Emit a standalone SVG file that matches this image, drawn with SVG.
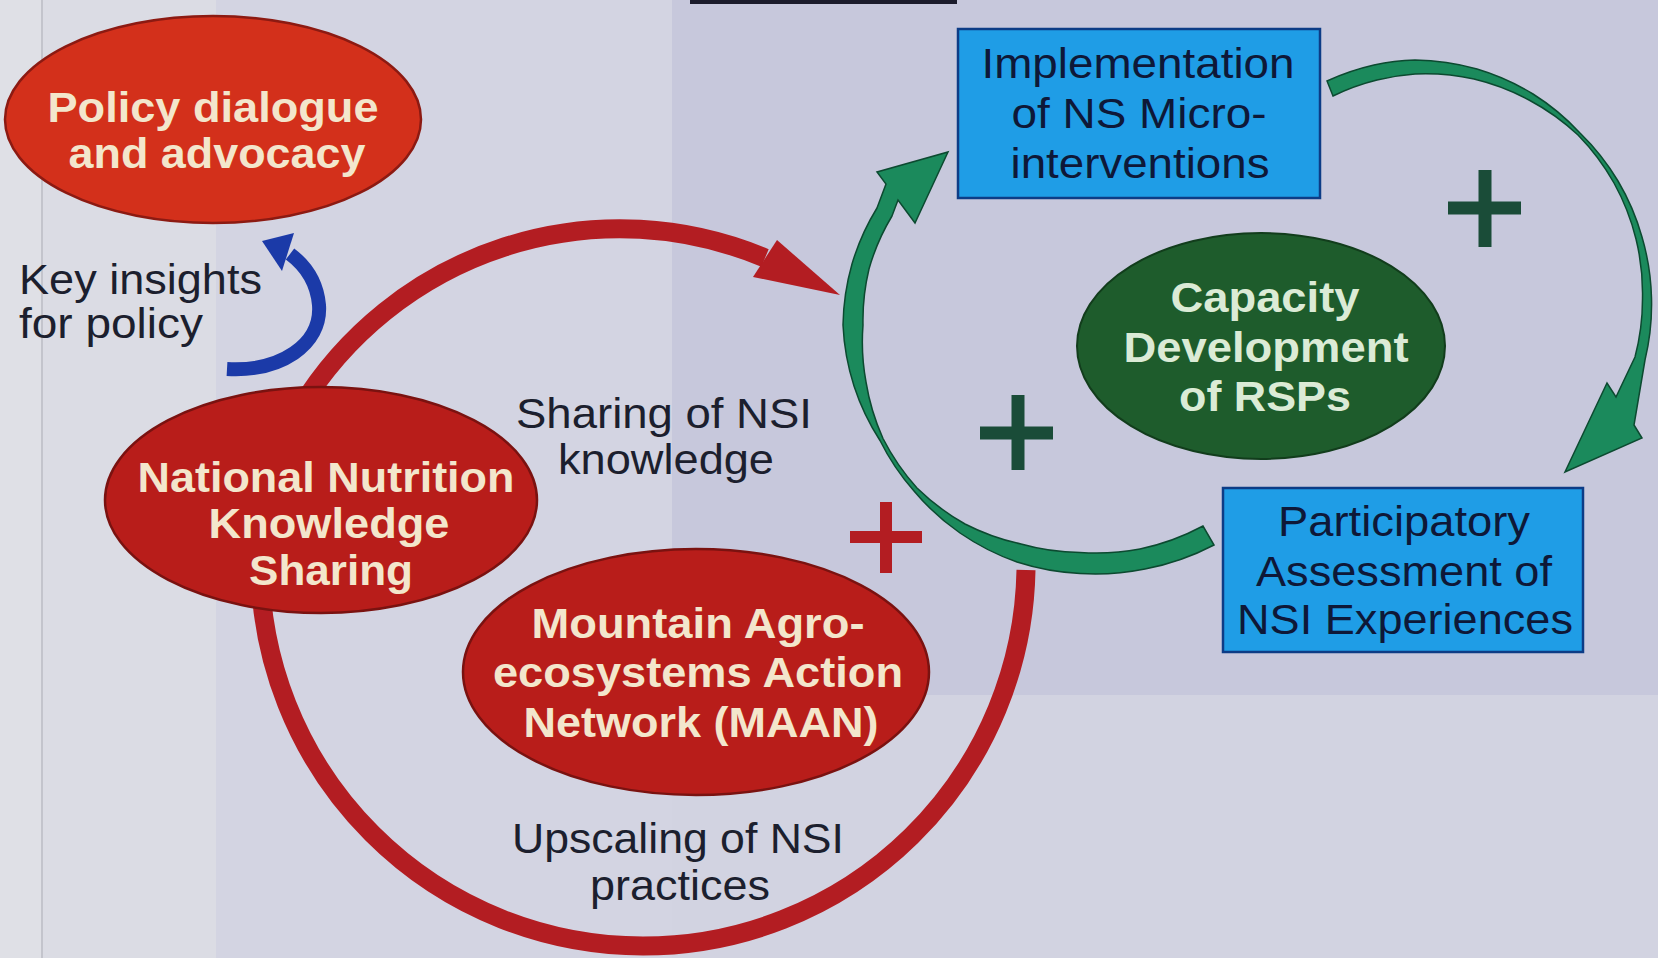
<svg xmlns="http://www.w3.org/2000/svg" width="1658" height="958" viewBox="0 0 1658 958">
<style>
.b{font-family:"Liberation Sans",Arial,sans-serif;font-weight:bold;font-size:43px;text-anchor:middle}
.r{font-family:"Liberation Sans",Arial,sans-serif;font-size:43px;fill:#1c1f2e}
.m{text-anchor:middle}
.cream{fill:#f3e6cc}
.navy{fill:#0e1838}
.pale{fill:#dbebd6}
.redarc{fill:none;stroke:#b31d22;stroke-width:19}
.garrow{fill:#1b8a5c;stroke:#0c4a30;stroke-width:1.5}
.gplus{stroke:#1a4c38;stroke-width:13;fill:none}
.rplus{stroke:#b31d22;stroke-width:12;fill:none}
.box{fill:#1f9de6;stroke:#0d3c86;stroke-width:2.5}
</style>
<g id="background">
<rect x="0" y="0" width="1658" height="958" fill="#d5d6e2"/>
<rect x="0" y="0" width="42" height="958" fill="#dfe0e6"/>
<rect x="42" y="0" width="174" height="958" fill="#dbdce4"/>
<rect x="216" y="0" width="456" height="958" fill="#d3d4e2"/>
<rect x="672" y="0" width="986" height="695" fill="#c7c8dc"/>
<rect x="672" y="695" width="986" height="263" fill="#d2d3e1"/>
<line x1="42" y1="0" x2="42" y2="958" stroke="#c3c4cc" stroke-width="2"/>
<rect x="690" y="0" width="267" height="4" fill="#1c1c2c"/>
</g>
<g id="connectors">
<path class="redarc" d="M 300 408 A 375 375 0 0 1 765 258"/>
<polygon points="777,240 840,295 753,277" fill="#b31d22"/>
<path class="redarc" d="M 260 563 A 383 383 0 0 0 643 946 A 383 383 0 0 0 1026 570"/>
<path d="M 227 369 C 280 372, 322 345, 319 305 C 317 283, 306 266, 290 254" fill="none" stroke="#1b3aa8" stroke-width="14"/>
<polygon points="294,233 262,241 282,271" fill="#1b3aa8"/>
<path class="garrow" d="M 1214 545 A 250 250 0 0 1 1145 569 A 250 250 0 0 1 1080 573.5 A 245 245 0 0 1 1017 562 A 240 240 0 0 1 960 533 A 235 235 0 0 1 914 491 A 232 232 0 0 1 880 440.5 A 232 232 0 0 1 854 386 A 235 235 0 0 1 843 325 A 236 236 0 0 1 852 264 A 234 234 0 0 1 877 208 L 886 184 L 877 172 L 948 152 L 915 223 L 898 200 L 892 216 A 217 217 0 0 0 869 269 A 218 218 0 0 0 863 325 A 220 220 0 0 0 866 382 A 225 225 0 0 0 883 438.5 A 230 230 0 0 0 917 488 A 229 229 0 0 0 965 524 A 227 227 0 0 0 1021 544 A 227 227 0 0 0 1080 552.5 A 231 231 0 0 0 1140 549 A 235 235 0 0 0 1203 526 Z"/>
<path class="garrow" d="M 1327 81 A 237 237 0 0 1 1374 65 A 238 238 0 0 1 1415 60 A 238 238 0 0 1 1477 69 A 236 236 0 0 1 1533 94 A 234 234 0 0 1 1580 133 A 234 234 0 0 1 1618 181 A 235 235 0 0 1 1642 237 A 236 236 0 0 1 1651.5 298 A 238 238 0 0 1 1645 360 L 1634 425 L 1642 438 L 1565 472 L 1607 383 L 1616 397 L 1635 357 A 228 228 0 0 0 1642.5 298 A 228 228 0 0 0 1636 239 A 229 229 0 0 0 1614 183 A 230 230 0 0 0 1578 135 A 229 229 0 0 0 1529 100 A 226 226 0 0 0 1474 79 A 224 224 0 0 0 1415 74 A 221 221 0 0 0 1377 80 A 218 218 0 0 0 1333 96 Z"/>
</g>
<g id="policy">
<ellipse cx="213" cy="119.5" rx="208" ry="103.5" fill="#d3301b" stroke="#8c1a12" stroke-width="2.5"/>
<text class="b cream" x="213" y="122" textLength="331" lengthAdjust="spacingAndGlyphs">Policy dialogue</text>
<text class="b cream" x="217" y="168" textLength="297" lengthAdjust="spacingAndGlyphs">and advocacy</text>
</g>
<g id="key-insights">
<text class="r" x="19" y="294" textLength="243" lengthAdjust="spacingAndGlyphs">Key insights</text>
<text class="r" x="19" y="338" textLength="184" lengthAdjust="spacingAndGlyphs">for policy</text>
</g>
<g id="nnks">
<ellipse cx="321" cy="500" rx="216" ry="113" fill="#b81d1a" stroke="#7a1210" stroke-width="2.5"/>
<text class="b cream" x="326" y="492" textLength="377" lengthAdjust="spacingAndGlyphs">National Nutrition</text>
<text class="b cream" x="329" y="538" textLength="241" lengthAdjust="spacingAndGlyphs">Knowledge</text>
<text class="b cream" x="331" y="585" textLength="164" lengthAdjust="spacingAndGlyphs">Sharing</text>
</g>
<g id="sharing-label">
<text class="r m" x="664" y="428" textLength="296" lengthAdjust="spacingAndGlyphs">Sharing of NSI</text>
<text class="r m" x="666" y="474" textLength="216" lengthAdjust="spacingAndGlyphs">knowledge</text>
</g>
<g id="maan">
<ellipse cx="696" cy="672" rx="233" ry="123" fill="#b81d1a" stroke="#7a1210" stroke-width="2.5"/>
<text class="b cream" x="698" y="638" textLength="333" lengthAdjust="spacingAndGlyphs">Mountain Agro-</text>
<text class="b cream" x="698" y="687" textLength="410" lengthAdjust="spacingAndGlyphs">ecosystems Action</text>
<text class="b cream" x="701" y="737" textLength="355" lengthAdjust="spacingAndGlyphs">Network (MAAN)</text>
</g>
<g id="upscaling-label">
<text class="r m" x="678" y="853" textLength="332" lengthAdjust="spacingAndGlyphs">Upscaling of NSI</text>
<text class="r m" x="680" y="900" textLength="180" lengthAdjust="spacingAndGlyphs">practices</text>
</g>
<g id="red-plus">
<path class="rplus" d="M 850 537 H 922 M 886 502 V 573"/>
</g>
<g id="implementation">
<rect class="box" x="958" y="29" width="362" height="169"/>
<text class="r m navy" x="1138" y="78" textLength="313" lengthAdjust="spacingAndGlyphs">Implementation</text>
<text class="r m navy" x="1139" y="128" textLength="255" lengthAdjust="spacingAndGlyphs">of NS Micro-</text>
<text class="r m navy" x="1140" y="178" textLength="259" lengthAdjust="spacingAndGlyphs">interventions</text>
</g>
<g id="capacity">
<ellipse cx="1261" cy="346" rx="184" ry="113" fill="#1e5c2c" stroke="#123d1c" stroke-width="2"/>
<text class="b pale" x="1265" y="312" textLength="189" lengthAdjust="spacingAndGlyphs">Capacity</text>
<text class="b pale" x="1266" y="362" textLength="285" lengthAdjust="spacingAndGlyphs">Development</text>
<text class="b pale" x="1265" y="411" textLength="172" lengthAdjust="spacingAndGlyphs">of RSPs</text>
</g>
<g id="participatory">
<rect class="box" x="1223" y="488" width="360" height="164"/>
<text class="r m navy" x="1404" y="536" textLength="252" lengthAdjust="spacingAndGlyphs">Participatory</text>
<text class="r m navy" x="1404" y="586" textLength="296" lengthAdjust="spacingAndGlyphs">Assessment of</text>
<text class="r m navy" x="1405" y="634" textLength="336" lengthAdjust="spacingAndGlyphs">NSI Experiences</text>
</g>
<g id="green-plus">
<path class="gplus" d="M 1448 208 H 1521 M 1485 170 V 247"/>
<path class="gplus" d="M 980 433 H 1053 M 1018 395 V 470"/>
</g>
</svg>
